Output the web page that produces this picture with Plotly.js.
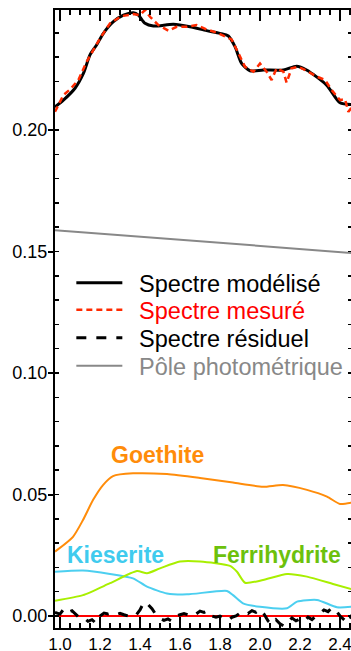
<!DOCTYPE html>
<html>
<head>
<meta charset="utf-8">
<script src="https://cdn.plot.ly/plotly-3.0.1.min.js"></script>
<style>
html,body{margin:0;padding:0;overflow:hidden;background:#fff;}
#chart{width:360px;height:651px;}
</style>
</head>
<body>
<div id="chart"></div>
<script>
// Wavelength (µm) and reflectance readings
const modelX = [0.975,1.017,1.075,1.117,1.15,1.183,1.217,1.267,1.317,1.367,1.392,1.425,1.467,1.567,1.65,1.733,1.80,1.842,1.875,1.908,1.95,2.017,2.117,2.183,2.233,2.333,2.40,2.46];
const modelY = [0.2095,0.2123,0.2172,0.2233,0.2309,0.2350,0.2398,0.2446,0.2473,0.2483,0.2473,0.2439,0.2428,0.2435,0.2425,0.2409,0.2398,0.2387,0.2343,0.2274,0.2244,0.2247,0.2247,0.2263,0.2247,0.2185,0.2112,0.2105];

const measX = [0.975,1.017,1.05,1.092,1.133,1.167,1.20,1.25,1.308,1.367,1.40,1.425,1.45,1.492,1.542,1.583,1.633,1.683,1.733,1.783,1.817,1.858,1.892,1.925,1.967,2.0,2.033,2.058,2.083,2.117,2.133,2.158,2.192,2.233,2.283,2.325,2.358,2.40,2.425,2.442,2.46];
const measY = [0.2075,0.2144,0.2167,0.2206,0.2281,0.2329,0.2377,0.2439,0.2469,0.2477,0.2473,0.2494,0.2466,0.2432,0.2409,0.2425,0.2425,0.2432,0.2414,0.2401,0.2387,0.2373,0.2316,0.2260,0.2240,0.2274,0.2240,0.2206,0.2254,0.2240,0.2195,0.2254,0.2260,0.2244,0.2220,0.2206,0.2165,0.2123,0.2127,0.2075,0.2095];

const residX = [0.975,1.00,1.02,1.04,1.06,1.08,1.10,1.12,1.14,1.16,1.18,1.20,1.22,1.24,1.26,1.28,1.30,1.32,1.34,1.36,1.38,1.40,1.42,1.44,1.46,1.48,1.50,1.52,1.54,1.56,1.58,1.60,1.62,1.64,1.66,1.68,1.70,1.72,1.74,1.76,1.78,1.80,1.82,1.84,1.86,1.88,1.90,1.92,1.94,1.96,1.98,2.00,2.02,2.04,2.06,2.08,2.10,2.12,2.14,2.16,2.18,2.20,2.22,2.24,2.26,2.28,2.30,2.32,2.34,2.36,2.38,2.40,2.42,2.44,2.46];
const residY = [0.0015,0.0008,0.003,0.0015,0.0022,0.0005,-0.001,-0.0008,-0.0022,-0.0015,-0.003,0.0,0.0012,0.0008,0.0012,0.0006,0.0011,0.0005,0.0,0.0008,0.0003,0.0025,0.0058,0.0048,0.003,0.0005,-0.001,-0.0018,-0.0012,-0.0022,0.0,0.0005,0.001,0.0005,0.0015,0.0008,0.002,0.0015,0.0022,0.0,-0.0005,0.0,-0.001,-0.0018,-0.0005,0.0,0.0012,0.0018,0.001,0.0022,0.0015,0.0028,0.0008,-0.002,-0.0035,-0.0015,-0.0032,-0.0042,-0.0025,-0.0008,-0.002,-0.0012,-0.0022,-0.0005,-0.0015,0.0,0.001,0.0025,0.0018,0.0035,0.0022,0.0,-0.0015,-0.003,0.0005];

const poleX = [0.975,2.46];
const poleY = [0.1588,0.1494];

const zeroX = [0.975,2.46];
const zeroY = [0,0];

const goeX = [0.975,1.065,1.115,1.165,1.215,1.265,1.365,1.535,1.70,1.865,2.015,2.115,2.235,2.335,2.40,2.46];
const goeY = [0.0265,0.0326,0.0395,0.0477,0.0539,0.0576,0.0587,0.0584,0.0568,0.0549,0.0532,0.0539,0.0519,0.0491,0.0461,0.0467];

const kieX = [0.975,1.115,1.25,1.365,1.435,1.535,1.635,1.835,1.865,1.915,2.00,2.135,2.185,2.285,2.385,2.46];
const kieY = [0.0182,0.0187,0.0173,0.0155,0.0121,0.0093,0.0089,0.0103,0.0086,0.0052,0.0038,0.0032,0.0059,0.0066,0.0036,0.0038];

const ferX = [0.975,1.115,1.25,1.385,1.435,1.50,1.60,1.70,1.85,1.885,1.925,2.015,2.135,2.235,2.365,2.46];
const ferY = [0.0063,0.0086,0.0135,0.0185,0.0176,0.0196,0.0224,0.0224,0.0206,0.0182,0.0137,0.0148,0.0173,0.0162,0.0132,0.0110];

const legendNames = ['Spectre modélisé','Spectre mesuré','Spectre résiduel','Pôle photométrique'];
const legendColors = ['#000000','#ff0000','#000000','#888888'];
const mineralNames = ['Goethite','Kieserite','Ferrihydrite'];
const mineralLabelX = [1.485,1.2775,2.085];
const mineralLabelY = [0.0663,0.0251,0.0251];

const xTicks = [1.0,1.2,1.4,1.6,1.8,2.0,2.2,2.4];
const yTicks = [0.00,0.05,0.10,0.15,0.20];

const cGoe = '#ff8c0a', cKie = '#4ccff0', cFer = '#a8ef00';
const cKieTxt = '#40cbee', cFerTxt = '#6cc10c';

const lname = i => '<span style="color:'+legendColors[i]+'">\u2002'+legendNames[i]+'</span>';

const traces = [
  {x: poleX, y: poleY, mode:'lines', name: lname(3), legend:'legend4',
   line:{color:'#888888', width:2}},
  {x: goeX, y: goeY, mode:'lines', line:{color:cGoe, width:2, shape:'spline', smoothing:0.6}, showlegend:false},
  {x: kieX, y: kieY, mode:'lines', line:{color:cKie, width:2, shape:'spline', smoothing:0.6}, showlegend:false},
  {x: ferX, y: ferY, mode:'lines', line:{color:cFer, width:2, shape:'spline', smoothing:0.6}, showlegend:false},
  {x: zeroX, y: zeroY, mode:'lines', line:{color:'#ff0000', width:2}, showlegend:false},
  {x: residX, y: residY, mode:'lines', name: lname(2), legend:'legend3',
   line:{color:'#000000', width:3, dash:'10px,10px'}},
  {x: modelX, y: modelY, mode:'lines', name: lname(0), legend:'legend',
   line:{color:'#000000', width:3, shape:'spline', smoothing:0.7}},
  {x: measX, y: measY, mode:'lines', name: lname(1), legend:'legend2',
   line:{color:'#ff2a00', width:2.5, dash:'6px,4px'}}
];

const annotations = mineralNames.map((n,i)=>({
  x: mineralLabelX[i], y: mineralLabelY[i], xref:'x', yref:'y', text:'<b>'+n+'</b>',
  showarrow:false, font:{family:'Liberation Sans, Arial, sans-serif', size:23, color:[cGoe,cKieTxt,cFerTxt][i]}
}));

// legend row centres (paper fraction)
const legendRowY = [0.5583,0.5146,0.4693,0.4239];
const mkLegend = y => ({x:0.055, y:y, xanchor:'left', yanchor:'middle', bgcolor:'rgba(0,0,0,0)',
          font:{size:23.5, color:'#000'}, itemwidth:46, tracegroupgap:0});

const layout = {
  width:360, height:651,
  margin:{l:55, r:8, t:10, b:23, pad:0},
  paper_bgcolor:'#ffffff', plot_bgcolor:'#ffffff',
  font:{family:'Liberation Sans, Arial, sans-serif', color:'#000'},
  showlegend:true,
  legend: mkLegend(legendRowY[0]),
  legend2: mkLegend(legendRowY[1]),
  legend3: mkLegend(legendRowY[2]),
  legend4: mkLegend(legendRowY[3]),
  xaxis:{range:[0.975,2.46], showgrid:false, zeroline:false, showline:true, linecolor:'#000', linewidth:2,
         mirror:'ticks', ticks:'inside', ticklen:11, tickwidth:2, tickcolor:'#000',
         tickvals:xTicks, ticktext:xTicks.map(v=>v.toFixed(1)), tickfont:{size:17},
         minor:{dtick:0.05, tick0:1.0, ticks:'inside', ticklen:5, tickwidth:1.5, tickcolor:'#000', showgrid:false},
         automargin:false, fixedrange:true},
  yaxis:{range:[-0.00494,0.2494], showgrid:false, zeroline:false, showline:true, linecolor:'#000', linewidth:2,
         mirror:'ticks', ticks:'outside', ticklen:5, tickwidth:2, tickcolor:'#000',
         tickvals:yTicks, ticktext:yTicks.map(v=>v.toFixed(2)), tickfont:{size:18},
         ticklabelstandoff:-3,
         minor:{dtick:0.01, tick0:0, ticks:'inside', ticklen:4, tickwidth:1.5, tickcolor:'#000', showgrid:false},
         automargin:false, fixedrange:true},
  annotations: annotations
};

Plotly.newPlot('chart', traces, layout, {displayModeBar:false, staticPlot:true});
</script>
</body>
</html>
